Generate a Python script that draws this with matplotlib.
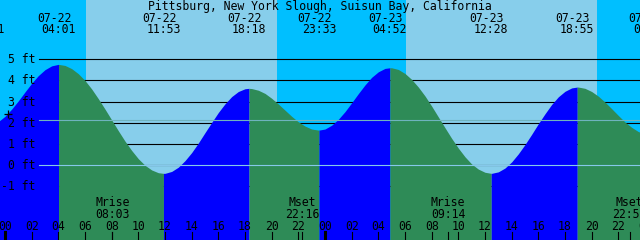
import numpy as np
import matplotlib
matplotlib.use("Agg")
import matplotlib.pyplot as plt
import matplotlib.transforms as mtrans

title = "Pittsburg, New York Slough, Suisun Bay, California"

# hours counted from 07-22 00:00
day_offset = {"07-21": -1, "07-22": 0, "07-23": 1, "07-24": 2}

# tide extremes (high/low)
event_dates = ["07-21", "07-22", "07-22", "07-22", "07-22", "07-23", "07-23", "07-23", "07-24"]
event_times = ["22:41", "04:01", "11:53", "18:18", "23:33", "04:52", "12:28", "18:55", "00:23"]
event_heights = [1.90, 4.76, -0.38, 3.63, 1.66, 4.60, -0.38, 3.69, 1.45]
label_visible = [False, True, True, True, True, True, True, True, True]

# tide heights (ft) read every half hour, from 07-21 23:30
curve_start = -0.5
curve_step = 0.5
curve_heights = [
    2.06, 2.31, 2.65, 3.04, 3.46, 3.87, 4.23, 4.51, 4.69, 4.76,
    4.71, 4.56, 4.32, 4.00, 3.60, 3.14, 2.65, 2.14, 1.63, 1.14,
    0.70, 0.31, 0.00, -0.22, -0.35, -0.38, -0.29, -0.09, 0.22, 0.60,
    1.05, 1.54, 2.02, 2.49, 2.90, 3.24, 3.48, 3.61, 3.62, 3.54,
    3.39, 3.16, 2.89, 2.60, 2.31, 2.05, 1.85, 1.71, 1.66, 1.71,
    1.89, 2.17, 2.53, 2.95, 3.38, 3.79, 4.15, 4.41, 4.57, 4.60,
    4.52, 4.33, 4.05, 3.69, 3.27, 2.79, 2.28, 1.77, 1.27, 0.81,
    0.40, 0.06, -0.18, -0.33, -0.38, -0.31, -0.13, 0.16, 0.54, 0.98,
    1.46, 1.96, 2.43, 2.87, 3.23, 3.49, 3.65, 3.69, 3.63, 3.48,
    3.26, 2.98, 2.67, 2.35, 2.04, 1.79, 1.59, 1.48,
]

# sun: sunrise / sunset
sun_dates = ["07-22", "07-22", "07-23", "07-23"]
sun_times = ["06:05", "20:23", "06:05", "20:22"]

# moon events
moon_names = ["Mrise", "Mset", "Mrise", "Mset"]
moon_dates = ["07-22", "07-22", "07-23", "07-23"]
moon_times = ["08:03", "22:16", "09:14", "22:51"]

ft_levels = [5, 4, 3, 2, 1, 0, -1]
datum_level = 0.0
msl_level = 2.13
now_hour = 0.19

hour_ticks = list(range(0, 49, 2))

# ---------------------------------------------------------------
def to_hour(d, t):
    hh, mm = t.split(":")
    return 24 * day_offset[d] + int(hh) + int(mm) / 60.0

ev_h = np.array([to_hour(d, t) for d, t in zip(event_dates, event_times)])
ev_z = np.array(event_heights)
sun_h = [to_hour(d, t) for d, t in zip(sun_dates, sun_times)]
moon_h = [to_hour(d, t) for d, t in zip(moon_dates, moon_times)]

ct = curve_start + curve_step * np.arange(len(curve_heights))
allt = np.concatenate([ct, ev_h])
allz = np.concatenate([np.array(curve_heights), ev_z])
order = np.argsort(allt)
T = allt[order]
Z = allz[order]

NIGHT = "#00BFFF"
DAY = "#87CEEB"
RISE = "#0000FF"
FALL = "#2E8B57"

W, H = 640, 240
fig = plt.figure(figsize=(W / 100, H / 100), dpi=100)
fig.patch.set_facecolor(NIGHT)
ax = fig.add_axes([0, 0, 1, 1])
x0, x1 = -0.375, 47.625
y0, y1 = -3.524, 7.797
ax.set_xlim(x0, x1)
ax.set_ylim(y0, y1)
ax.axis("off")

# sky
ax.axvspan(x0, x1, color=NIGHT, lw=0, zorder=0)
for a, b in zip(sun_h[0::2], sun_h[1::2]):
    ax.axvspan(a, b, color=DAY, lw=0, zorder=0.5)

# grid lines (behind tide)
for lv in ft_levels:
    ax.axhline(lv, xmin=39 / W, xmax=1, color="black", lw=0.8, zorder=1)

# tide fill
for i in range(len(ev_h) - 1):
    a, b = ev_h[i], ev_h[i + 1]
    m = (T >= a) & (T <= b)
    col = RISE if ev_z[i + 1] > ev_z[i] else FALL
    ax.fill_between(T[m], Z[m], y0 - 1, color=col, lw=0, zorder=2)

# datum & msl lines
ax.axhline(datum_level, xmin=39 / W, xmax=1, color="#86C8EA", lw=0.8, zorder=3)
ax.axhline(msl_level, xmin=39 / W, xmax=1, color="#6FB3BE", lw=0.8, zorder=3)

FONT = dict(family="DejaVu Sans Mono", fontsize=8.3, color="black")

def ytrans(px_from_top):
    return 1 - px_from_top / H

# title
ax.text(0.5, ytrans(10), title, transform=ax.transAxes, ha="center",
        va="baseline", zorder=5, **FONT)

# event labels
bt = mtrans.blended_transform_factory(ax.transData, ax.transAxes)
bt_date = mtrans.offset_copy(bt, fig=fig, x=-4.5, y=0, units="dots")
for hx, d, t, vis in zip(ev_h, event_dates, event_times, label_visible):
    if vis:
        ax.text(hx, ytrans(22), d, transform=bt_date, ha="center", va="baseline", zorder=5, **FONT)
    ax.text(hx, ytrans(33), t, transform=bt, ha="center", va="baseline", zorder=5, **FONT)

# y labels
by = mtrans.blended_transform_factory(ax.transAxes, ax.transData)
by_off = mtrans.offset_copy(by, fig=fig, x=0, y=-4, units="dots")
for lv in ft_levels:
    ax.text(35.5 / W, lv, f"{lv} ft", transform=by_off, ha="right", va="baseline", zorder=5, **FONT)

# hour ticks & labels
for hx in hour_ticks:
    lw = 2.2 if hx % 24 == 0 else 0.8
    ax.axvline(hx, ymin=0, ymax=8 / H, color="black", lw=lw, zorder=4)
    ax.text(hx, ytrans(229.5), f"{hx % 24:02d}", transform=bt, ha="center", va="baseline", zorder=5, **FONT)

# moon events
for hx, name, t in zip(moon_h, moon_names, moon_times):
    ax.axvline(hx, ymin=0, ymax=8 / H, color="black", lw=0.8, zorder=4)
    ax.text(hx, ytrans(206), name, transform=bt, ha="center", va="baseline", zorder=5, **FONT)
    ax.text(hx, ytrans(218), t, transform=bt, ha="center", va="baseline", zorder=5, **FONT)

# current-time marker
now_z = np.interp(now_hour, T, Z)
ax.plot([now_hour], [now_z], marker="+", ms=6, mew=0.9, color="black", zorder=6, clip_on=False)

fig.savefig("out.png", dpi=100, facecolor=fig.get_facecolor())
